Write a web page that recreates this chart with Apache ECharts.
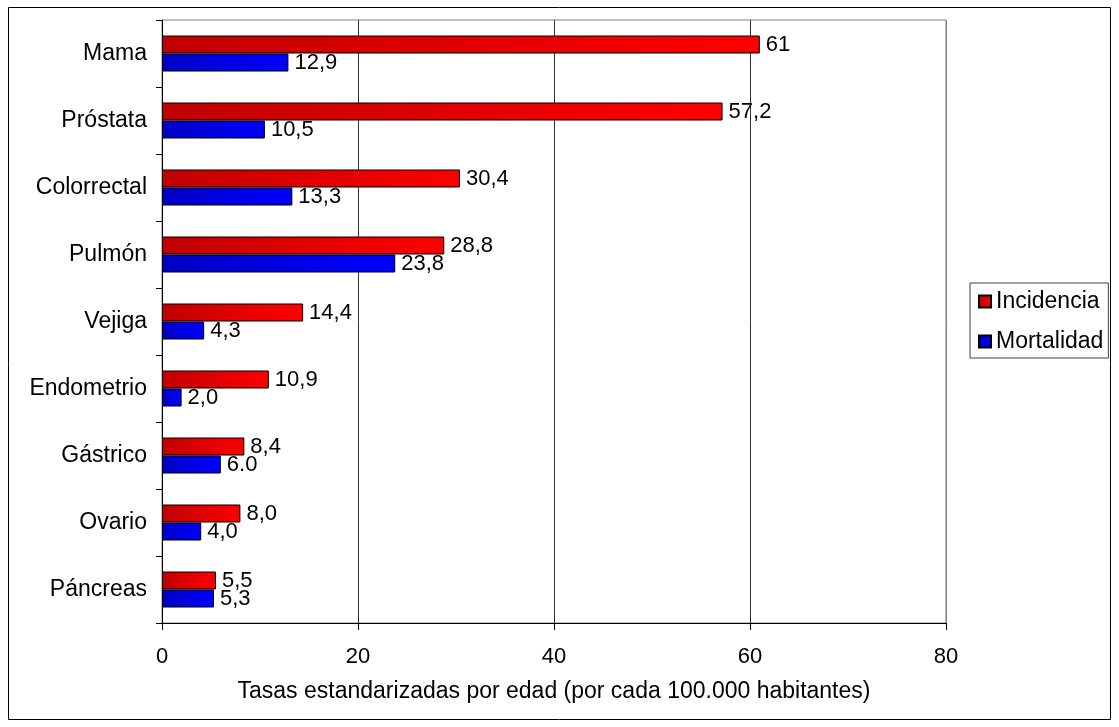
<!DOCTYPE html>
<html>
<head>
<meta charset="utf-8">
<script src="https://cdn.jsdelivr.net/npm/echarts@6/dist/echarts.min.js"></script>
<style>
  html, body { margin: 0; padding: 0; background: #fff; }
  #chart { width: 1119px; height: 727px; }
</style>
</head>
<body>
<div id="chart"></div>
<script>
// Tipos de cáncer, de arriba a abajo
const categories = ['Mama', 'Próstata', 'Colorrectal', 'Pulmón', 'Vejiga', 'Endometrio', 'Gástrico', 'Ovario', 'Páncreas'];

// Tasas estandarizadas por edad (por 100.000 habitantes)
const incidencia = [61, 57.2, 30.4, 28.8, 14.4, 10.9, 8.4, 8.0, 5.5];
const mortalidad = [12.9, 10.5, 13.3, 23.8, 4.3, 2.0, 6.0, 4.0, 5.3];

// Etiquetas tal como se imprimen junto a cada barra
const incidenciaLabels = ['61', '57,2', '30,4', '28,8', '14,4', '10,9', '8,4', '8,0', '5,5'];
const mortalidadLabels = ['12,9', '10,5', '13,3', '23,8', '4,3', '2,0', '6.0', '4,0', '5,3'];

const xTicks = [0, 20, 40, 60, 80];

const FONT = "'Liberation Sans', Arial, sans-serif";

const redFill = new echarts.graphic.LinearGradient(0, 0, 1, 0, [
  { offset: 0, color: '#c00000' },
  { offset: 1, color: '#ff0000' }
]);
const blueFill = new echarts.graphic.LinearGradient(0, 0, 1, 0, [
  { offset: 0, color: '#0000c4' },
  { offset: 1, color: '#0000ff' }
]);

const chart = echarts.init(document.getElementById('chart'), null, { renderer: 'canvas' });

function barSeries(name, values, labels, fill) {
  return {
    name: name,
    type: 'bar',
    data: values,
    barWidth: 18,
    barGap: '0%',
    itemStyle: { color: fill, borderColor: '#000', borderWidth: 1 },
    label: {
      show: true,
      position: 'right',
      distance: 6,
      color: '#000',
      fontFamily: FONT,
      fontSize: 22,
      formatter: p => labels[p.dataIndex]
    },
    emphasis: { disabled: true },
    animation: false
  };
}

chart.setOption({
  backgroundColor: '#fff',
  textStyle: { fontFamily: FONT },
  graphic: [{
    type: 'rect',
    shape: { x: 8.5, y: 7.5, width: 1102, height: 712 },
    style: { fill: 'none', stroke: '#000', lineWidth: 1 },
    silent: true
  }],
  grid: {
    left: 162, right: 173, top: 20, bottom: 104,
    show: true, borderColor: '#808080', borderWidth: 1
  },
  legend: {
    orient: 'vertical',
    left: 970, top: 283,
    padding: [7, 5, 5, 8],
    itemGap: 17,
    itemWidth: 12, itemHeight: 12,
    icon: 'rect',
    borderColor: '#404040', borderWidth: 1,
    backgroundColor: '#fff',
    textStyle: { fontFamily: FONT, fontSize: 23, color: '#000' },
    data: ['Incidencia', 'Mortalidad']
  },
  xAxis: {
    type: 'value',
    min: xTicks[0], max: xTicks[xTicks.length - 1], interval: 20,
    name: 'Tasas estandarizadas por edad (por cada 100.000 habitantes)',
    nameLocation: 'middle',
    nameGap: 57,
    nameTextStyle: { fontFamily: FONT, fontSize: 23, color: '#000' },
    axisLine: { show: true, lineStyle: { color: '#000', width: 1 } },
    axisTick: { show: true, length: 7, lineStyle: { color: '#000' } },
    axisLabel: { fontFamily: FONT, fontSize: 22, color: '#000', margin: 23 },
    splitLine: {
      show: true,
      lineStyle: { color: ['rgba(0,0,0,0)', '#303030', '#303030', '#303030', '#808080'], width: 1 }
    }
  },
  yAxis: {
    type: 'category',
    data: categories,
    inverse: true,
    axisLine: { show: true, lineStyle: { color: '#000', width: 1 } },
    axisTick: { show: true, length: 6, lineStyle: { color: '#000' } },
    axisLabel: { fontFamily: FONT, fontSize: 23, color: '#000', margin: 15 },
    splitLine: { show: false }
  },
  series: [
    barSeries('Incidencia', incidencia, incidenciaLabels, redFill),
    barSeries('Mortalidad', mortalidad, mortalidadLabels, blueFill)
  ]
});
</script>
</body>
</html>
